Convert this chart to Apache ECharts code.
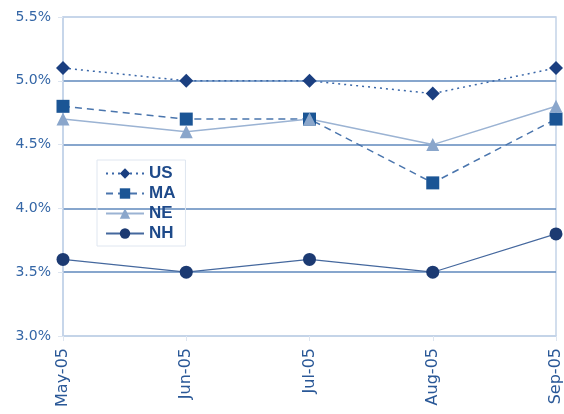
<!DOCTYPE html>
<html><head><meta charset="utf-8">
<script src="https://cdn.jsdelivr.net/npm/echarts@6/dist/echarts.min.js"></script>
<style>html,body{margin:0;padding:0;background:#fff}#c{width:564px;height:414px}</style>
</head><body><div id="c"></div>
<script>
var categories = ['May-05','Jun-05','Jul-05','Aug-05','Sep-05'];
var usValues = [5.1, 5.0, 5.0, 4.9, 5.1];
var maValues = [4.8, 4.7, 4.7, 4.2, 4.7];
var neValues = [4.7, 4.6, 4.7, 4.5, 4.8];
var nhValues = [3.6, 3.5, 3.6, 3.5, 3.8];
var seriesNames = ['US','MA','NE','NH'];

var chart = echarts.init(document.getElementById('c'));
var font = 'DejaVu Sans';
chart.setOption({
  animation: false,
  backgroundColor: '#fff',
  grid: {left: 63, right: 4, top: 17, bottom: 78, show: true, borderColor: '#c3d3e8', borderWidth: 1.5},
  legend: {
    orient: 'vertical', left: 97, top: 160,
    data: seriesNames,
    itemWidth: 38, itemHeight: 13, itemGap: 3,
    borderColor: '#dfe6f0', borderWidth: 1, padding: [5, 10, 4, 8],
    textStyle: {fontFamily: 'Liberation Sans', fontSize: 17, color: '#1e4a8a', fontWeight: 'bold'}
  },
  xAxis: {
    type: 'category', data: categories, boundaryGap: false,
    axisLine: {lineStyle: {color: '#c3d3e8', width: 1.5}},
    axisTick: {show: true, length: 5, lineStyle: {color: '#dde5f0'}},
    axisLabel: {rotate: 90, fontFamily: font, fontSize: 16, color: '#2a5897', margin: 12},
    splitLine: {show: false}
  },
  yAxis: {
    type: 'value', min: 3, max: 5.5, interval: 0.5,
    axisLine: {show: true, lineStyle: {color: '#c3d3e8', width: 1.5}},
    axisTick: {show: true, length: 5, lineStyle: {color: '#dde5f0'}},
    axisLabel: {fontFamily: font, fontSize: 14, color: '#3466a6', margin: 12,
      formatter: function (v) { return v.toFixed(1) + '%'; }},
    splitLine: {show: true, lineStyle: {width: 1.5, color: ['#c3d3e8', '#5f88bd', '#5f88bd', '#5f88bd', '#5f88bd', '#c3d3e8']}}
  },
  series: [
    {name: 'US', type: 'line', data: usValues, symbol: 'diamond', symbolSize: 14,
      itemStyle: {color: '#1b3f80'}, lineStyle: {color: '#3a67a8', width: 1.5, type: [2, 4]}},
    {name: 'MA', type: 'line', data: maValues, symbol: 'rect', symbolSize: 13,
      itemStyle: {color: '#1b5595'}, lineStyle: {color: '#4a75ad', width: 1.5, type: [7, 5]}},
    {name: 'NE', type: 'line', data: neValues, symbol: 'triangle', symbolSize: 13,
      itemStyle: {color: '#8aa6cb'}, lineStyle: {color: '#9bb3d3', width: 1.5}},
    {name: 'NH', type: 'line', data: nhValues, symbol: 'circle', symbolSize: 13,
      itemStyle: {color: '#1c3a72'}, lineStyle: {color: '#45689e', width: 1.2}}
  ]
});
</script>
</body></html>
